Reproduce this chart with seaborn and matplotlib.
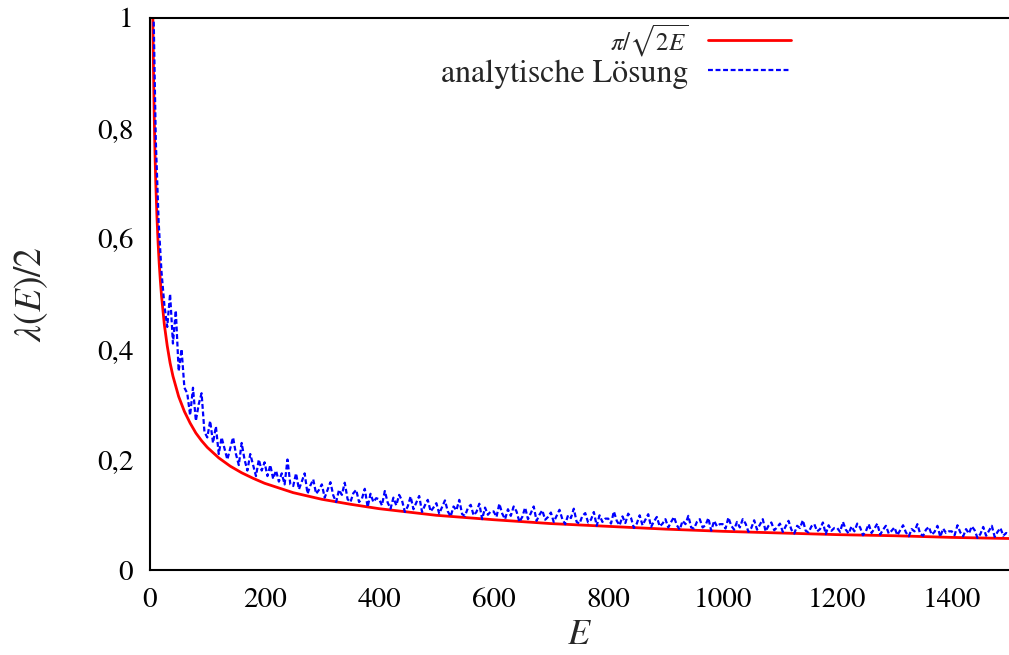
import numpy as np
import pandas as pd
import matplotlib
matplotlib.use("Agg")
import matplotlib.pyplot as plt
import seaborn as sns

# red curve: pi / sqrt(2E)
E_red = [4, 5, 6, 7, 8, 9, 10, 12, 14, 16, 18, 20, 25, 30, 35, 40, 50, 60, 70, 80,
         90, 100, 120, 140, 160, 180, 200, 250, 300, 350, 400, 500, 600, 700, 800,
         900, 1000, 1100, 1200, 1300, 1400, 1500]
lam_red = [1.111, 0.993, 0.907, 0.840, 0.785, 0.740, 0.702, 0.641, 0.594, 0.555,
           0.524, 0.497, 0.444, 0.406, 0.375, 0.351, 0.314, 0.287, 0.266, 0.248,
           0.234, 0.222, 0.203, 0.188, 0.176, 0.166, 0.157, 0.140, 0.128, 0.119,
           0.111, 0.099, 0.091, 0.084, 0.079, 0.074, 0.070, 0.067, 0.064, 0.062,
           0.059, 0.057]

# blue dashed curve (analytische Loesung), E = 5, 10, ..., 1500
E_blue = np.arange(5, 1505, 5)
lam_blue = [
    1.08, 0.78, 0.63, 0.54, 0.48, 0.44, 0.50, 0.41, 0.47, 0.36,
    0.40, 0.33, 0.32, 0.28, 0.33, 0.27, 0.30, 0.32, 0.25, 0.24,
    0.27, 0.23, 0.26, 0.21, 0.24, 0.22, 0.20, 0.22, 0.24, 0.21,
    0.19, 0.23, 0.20, 0.18, 0.21, 0.19, 0.17, 0.20, 0.18, 0.195,
    0.17, 0.19, 0.165, 0.18, 0.16, 0.175, 0.155, 0.20, 0.155,
    0.152, 0.175, 0.146, 0.160, 0.175, 0.138, 0.153, 0.164, 0.138, 0.145,
    0.155, 0.131, 0.145, 0.159, 0.135, 0.123, 0.145, 0.136, 0.158, 0.128,
    0.123, 0.139, 0.145, 0.123, 0.129, 0.147, 0.114, 0.138, 0.123, 0.130,
    0.128, 0.117, 0.143, 0.122, 0.111, 0.131, 0.117, 0.136, 0.126, 0.105,
    0.115, 0.133, 0.110, 0.122, 0.134, 0.105, 0.117, 0.127, 0.106, 0.113,
    0.121, 0.102, 0.114, 0.126, 0.106, 0.097, 0.115, 0.108, 0.127, 0.101,
    0.098, 0.112, 0.118, 0.099, 0.105, 0.120, 0.092, 0.113, 0.100, 0.106,
    0.106, 0.096, 0.120, 0.102, 0.092, 0.110, 0.098, 0.115, 0.106, 0.087,
    0.096, 0.113, 0.092, 0.103, 0.115, 0.089, 0.100, 0.108, 0.091, 0.096,
    0.104, 0.087, 0.098, 0.109, 0.092, 0.083, 0.099, 0.094, 0.111, 0.087,
    0.084, 0.098, 0.103, 0.086, 0.091, 0.105, 0.080, 0.099, 0.087, 0.093,
    0.093, 0.084, 0.106, 0.089, 0.081, 0.097, 0.085, 0.102, 0.094, 0.076,
    0.084, 0.099, 0.081, 0.091, 0.101, 0.078, 0.088, 0.096, 0.079, 0.084,
    0.092, 0.077, 0.087, 0.096, 0.081, 0.073, 0.089, 0.083, 0.098, 0.077,
    0.075, 0.087, 0.092, 0.077, 0.081, 0.094, 0.071, 0.089, 0.079, 0.083,
    0.083, 0.075, 0.095, 0.080, 0.073, 0.087, 0.077, 0.092, 0.084, 0.069,
    0.076, 0.090, 0.073, 0.082, 0.092, 0.070, 0.080, 0.086, 0.072, 0.077,
    0.084, 0.069, 0.079, 0.089, 0.073, 0.066, 0.080, 0.076, 0.090, 0.071,
    0.068, 0.079, 0.083, 0.070, 0.074, 0.086, 0.065, 0.081, 0.071, 0.076,
    0.076, 0.069, 0.087, 0.073, 0.066, 0.079, 0.070, 0.084, 0.077, 0.063,
    0.070, 0.083, 0.067, 0.075, 0.084, 0.064, 0.073, 0.080, 0.066, 0.071,
    0.077, 0.063, 0.072, 0.081, 0.068, 0.061, 0.074, 0.070, 0.083, 0.065,
    0.062, 0.073, 0.078, 0.064, 0.069, 0.080, 0.060, 0.075, 0.067, 0.070,
    0.070, 0.063, 0.081, 0.068, 0.061, 0.074, 0.066, 0.079, 0.072, 0.058,
    0.065, 0.078, 0.062, 0.071, 0.080, 0.060, 0.069, 0.076, 0.062, 0.067,
    0.063,
]

x_ticks = [0, 200, 400, 600, 800, 1000, 1200, 1400]
y_ticks = [0, 0.2, 0.4, 0.6, 0.8, 1.0]
y_ticklabels = ["0", "0,2", "0,4", "0,6", "0,8", "1"]

sns.set_style("white")
plt.rcParams['font.family'] = ['STIXGeneral', 'DejaVu Serif']
plt.rcParams['mathtext.fontset'] = 'stix'

df_red = pd.DataFrame({"E": E_red, "lam": lam_red})
df_blue = pd.DataFrame({"E": E_blue, "lam": lam_blue})

fig = plt.figure(figsize=(10.09, 6.55), dpi=100)
ax = fig.add_axes([0.1487, 0.1298, 0.8513, 0.8432])

sns.lineplot(data=df_red, x="E", y="lam", ax=ax, color="#ff0000", lw=2.0,
             label=r"$\pi/\sqrt{2E}$")
sns.lineplot(data=df_blue, x="E", y="lam", ax=ax, color="#0000ff", lw=1.6,
             dashes=False, label="analytische Lösung")
ax.lines[1].set_dashes((2.2, 1.2))

ax.set_xlim(0, 1500)
ax.set_ylim(0, 1)
ax.set_xticks(x_ticks)
ax.set_xticklabels([str(t) for t in x_ticks])
ax.set_yticks(y_ticks)
ax.set_yticklabels(y_ticklabels)
ax.tick_params(direction="in", length=8, width=1, labelsize=21, pad=13,
               top=False, right=False, colors="black")
ax.tick_params(axis="y", pad=12)
for side in ["left", "bottom", "top"]:
    ax.spines[side].set_linewidth(1.5)
    ax.spines[side].set_color("black")
ax.spines["right"].set_visible(False)

ax.set_xlabel(r"$E$", fontsize=26, labelpad=4)
ax.set_ylabel(r"$\lambda(E)/2$", fontsize=27, labelpad=34)

leg = ax.legend(loc="upper right", bbox_to_anchor=(0.761, 1.014), frameon=False,
                markerfirst=False, fontsize=23, handlelength=2.6,
                labelspacing=0.0, borderaxespad=0.0, handletextpad=0.6)
leg.get_texts()[0].set_fontsize(18)
leg.get_lines()[1].set_dashes((2.2, 1.2))

fig.savefig("out.png", dpi=100)
